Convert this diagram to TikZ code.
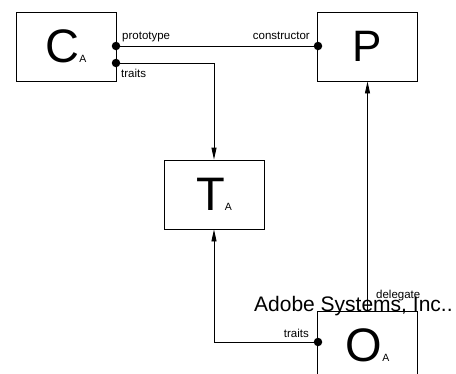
\documentclass[tikz,border=0pt]{standalone}
\usepackage{fontspec}
\setmainfont{Liberation Sans}
\usetikzlibrary{arrows.meta}
\begin{document}
\begin{tikzpicture}[x=1pt,y=-1pt,
  box/.style={draw,line width=0.9pt,minimum width=100pt,minimum height=69pt,inner sep=0pt},
  dotnode/.style={circle,fill=black,inner sep=0pt,minimum size=8.5pt},
  conn/.style={line width=0.9pt},
  tip/.style={-{Triangle[length=12pt,width=5pt]}},
  lbl/.style={inner sep=0pt,font=\fontsize{11.5}{12}\selectfont}]
\useasboundingbox (0,0) rectangle (456,373);
\newcommand{\boxtext}[2]{{\fontsize{47}{47}\selectfont #1}{\fontsize{10.5}{10.5}\selectfont #2}}
\node[box] (C) at (66,46.5) {\boxtext{C}{A}};
\node[box] (P) at (367.5,46.5) {{\fontsize{44}{44}\selectfont P}};
\node[box] (T) at (214,194.5) {\boxtext{T}{A}};
\node[box] (O) at (367.5,345.5) {\boxtext{O}{A}};
\node[dotnode] (d1) at (116,46) {};
\node[dotnode] (d2) at (318,46) {};
\node[dotnode] (d3) at (116,63) {};
\node[dotnode] (d4) at (318,342) {};
\draw[conn] (d1) -- (d2);
\draw[conn,tip] (d3.center) -| (T.north);
\draw[conn,tip] (d4.center) -| (T.south);
\draw[conn,tip] (O.north) -- (P.south);
\node[lbl,anchor=base west] (l1) at (122,39.5) {prototype};
\node[lbl,anchor=base east] (l2) at (310,39.5) {constructor};
\node[lbl,anchor=base west] (l3) at (121,77.5) {traits};
\node[lbl,anchor=base east] (l4) at (309,337) {traits};
\node[lbl,anchor=base west] (l5) at (376,298) {delegate};
\node[inner sep=0pt,anchor=base west,font=\fontsize{21}{21}\selectfont] (adobe) at (254,311.5) {Adobe Systems, Inc..};
\end{tikzpicture}
\end{document}
